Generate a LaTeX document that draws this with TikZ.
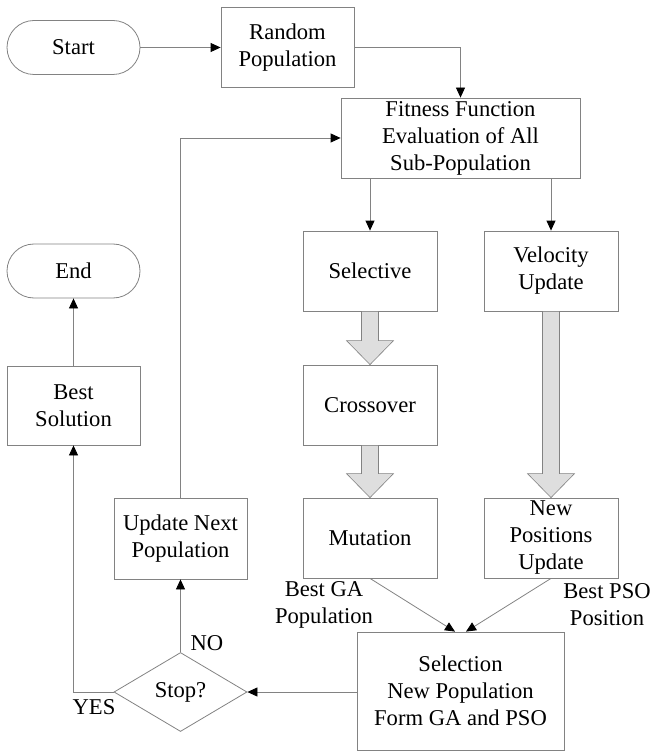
\documentclass[tikz,border=0pt]{standalone}
\usepackage{fontspec}
\setmainfont{Liberation Serif}
\newfontfamily\diagfont{Liberation Serif}
\usetikzlibrary{arrows.meta,shapes.geometric,calc}
\definecolor{lc}{RGB}{130,130,130}
\definecolor{fatfill}{RGB}{222,222,222}
\newcommand{\fatarr}[2]{%
  \path[fatst] ($(#1.south)+(-8.5,0)$) -- ($(#2.north)+(-8.5,-24)$) -- ($(#2.north)+(-23.5,-24)$) -- (#2.north) -- ($(#2.north)+(23.5,-24)$) -- ($(#2.north)+(8.5,-24)$) -- ($(#1.south)+(8.5,0)$) -- cycle;}
\begin{document}
\begin{tikzpicture}[x=1pt,y=-1pt,
  txt/.style={font=\diagfont\fontsize{22.6}{27}\selectfont, align=center, inner sep=0pt},
  box/.style={txt, draw=lc, line width=0.8pt, minimum width=133pt, minimum height=80pt},
  term/.style={box, rounded corners=27pt, minimum height=54pt},
  dec/.style={txt, draw=lc, line width=0.8pt, diamond, aspect=1.68, minimum width=133pt, minimum height=79pt},
  conn/.style={draw=lc, line width=0.8pt, -{Triangle[length=10pt,width=9pt,color=black]}},
  fatst/.style={draw=lc, line width=0.6pt, fill=fatfill}
]
\useasboundingbox (0,0) rectangle (650,751);

\node[term] (start) at (73.5,47.5) {Start};
\node[box] (rand) at (287.5,47.5) {Random\\Population};
\node[box, minimum width=239pt] (fit) at (460.5,138) {Fitness Function\\Evaluation of All\\Sub-Population};
\node[box, minimum width=134pt] (sel) at (370,271) {Selective};
\node[box, minimum width=134pt] (vel) at (551,271) {Velocity\\Update};
\node[box, minimum width=134pt] (cro) at (370,405) {Crossover};
\node[box, minimum width=134pt] (mut) at (370,538) {Mutation};
\node[box, minimum width=134pt] (npu) at (551,538) {New\\Positions\\Update};
\node[term] (end) at (73.5,271) {End};
\node[box, minimum height=79pt] (best) at (73.5,405.5) {Best\\Solution};
\node[box, minimum height=81pt] (upd) at (180.5,538.5) {Update Next\\Population};
\node[dec] (stop) at (180.5,692) {Stop?};
\node[box, minimum width=207pt, minimum height=118pt] (selnew) at (460.5,691) {Selection\\New Population\\Form GA and PSO};

\node[txt] (bga) at (324,605) {Best GA\\Population};
\node[txt] (bpso) at (607,605) {Best PSO\\Position};
\node[txt] (no) at (207,643) {NO};
\node[txt] (yes) at (94,707) {YES};

\draw[conn] (start.east) -- (rand.west);
\draw[conn] (rand.east) -| (fit.north);
\draw[conn] (sel.north |- fit.south) -- (sel.north);
\draw[conn] (vel.north |- fit.south) -- (vel.north);
\fatarr{sel}{cro}
\fatarr{cro}{mut}
\fatarr{vel}{npu}
\draw[conn] (mut.south) -- ($(selnew.north)+(-5.5,0)$);
\draw[conn] (npu.south) -- ($(selnew.north)+(5.5,0)$);
\draw[conn] (selnew.west |- stop.east) -- (stop.east);
\draw[conn] (stop.north) -- (upd.south);
\draw[conn] (upd.north) |- (fit.west);
\draw[conn] (stop.west) -| (best.south);
\draw[conn] (best.north) -- (end.south);
\end{tikzpicture}
\end{document}
